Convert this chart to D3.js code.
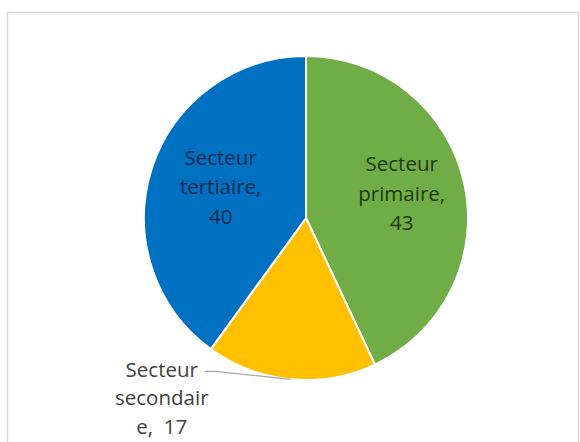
<!DOCTYPE html>
<html>
<head>
<meta charset="utf-8">
<script src="https://cdn.jsdelivr.net/npm/d3@7"></script>
<style>
  html, body { margin: 0; padding: 0; background: #ffffff; }
  svg { display: block; }
  text { white-space: pre; }
</style>
</head>
<body>
<svg id="chart" width="580" height="442"></svg>
<script>
// ---- data ----
const categories = ["Secteur primaire", "Secteur secondaire", "Secteur tertiaire"];
const values = [43, 17, 40];
const labelLines = [
  ["Secteur", "primaire,", "43"],
  ["Secteur", "secondair", "e,  17"],
  ["Secteur", "tertiaire,", "40"]
];
const colors = ["#70AD47", "#FFC000", "#0070C0"];
const labelColors = ["#1c3a10", "#404040", "#0f2a4f"];

// ---- layout ----
const cx = 306, cy = 218, R = 162;
const svg = d3.select("#chart");

svg.append("rect")
  .attr("x", 7.5).attr("y", 12.5)
  .attr("width", 571).attr("height", 440)
  .attr("fill", "#ffffff")
  .attr("stroke", "#d9d9d9").attr("stroke-width", 1.5);

const data = categories.map((c, i) => ({ name: c, value: values[i], i }));
const pie = d3.pie().value(d => d.value).sort(null);
const arcs = pie(data);
const arc = d3.arc().innerRadius(0).outerRadius(R);

const g = svg.append("g").attr("transform", `translate(${cx},${cy})`);

g.selectAll("path.slice")
  .data(arcs)
  .join("path")
  .attr("class", "slice")
  .attr("d", arc)
  .attr("fill", d => colors[d.data.i])
  .attr("stroke", "#ffffff")
  .attr("stroke-width", 2)
  .attr("stroke-linejoin", "round");

const fontFamily = "'Open Sans', 'Liberation Sans', sans-serif";
const fontSize = 20.5;

function drawLabel(lines, x, yMid, color, lineH) {
  const t = g.append("text")
    .attr("text-anchor", "middle")
    .attr("font-family", fontFamily)
    .attr("font-size", fontSize)
    .attr("font-weight", 500)
    .attr("fill", color);
  const n = lines.length;
  lines.forEach((ln, k) => {
    t.append("tspan")
      .attr("x", x)
      .attr("y", yMid + (k - (n - 1) / 2) * lineH)
      .attr("dy", "0.35em")
      .text(ln);
  });
}

// inside labels
const labelArc = d3.arc().innerRadius(R * 0.58).outerRadius(R * 0.58);
arcs.forEach(a => {
  if (a.data.i === 1) return;
  const [x, y] = labelArc.centroid(a);
  drawLabel(labelLines[a.data.i], x + 4, a.data.i === 2 ? y - 2 : y - 4, labelColors[a.data.i], 29.5);
});

// outside label for the small slice, with leader line
const sec = arcs[1];
const mid = (sec.startAngle + sec.endAngle) / 2;
const p0 = [Math.sin(mid) * R, -Math.cos(mid) * R];
const p1 = [p0[0] - 76, p0[1] - 8];
const p2 = [p1[0] - 10, p1[1]];
g.append("polyline")
  .attr("points", [p0, p1, p2].map(p => p.join(",")).join(" "))
  .attr("fill", "none")
  .attr("stroke", "#a6a6a6")
  .attr("stroke-width", 1.2);
drawLabel(labelLines[1], p2[0] - 43, p2[1] + 27, labelColors[1], 28.5);
</script>
</body>
</html>
